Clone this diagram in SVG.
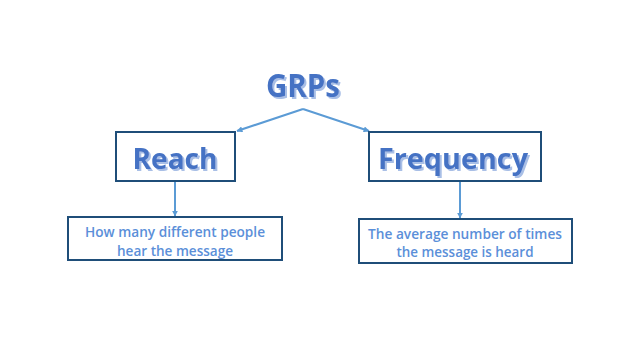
<svg xmlns="http://www.w3.org/2000/svg" width="640" height="360" viewBox="0 0 640 360">
<defs>
<marker id="ah" viewBox="0 0 10 10" refX="9" refY="5" markerWidth="6" markerHeight="6" orient="auto-start-reverse" markerUnits="userSpaceOnUse"><path d="M0,0 L10,5 L0,10 z" fill="#5B9BD5"/></marker>
<filter id="sh" x="-10%" y="-10%" width="130%" height="130%"><feOffset dx="1.5" dy="1.5" in="SourceAlpha" result="o"/><feFlood flood-color="#A9BFE6"/><feComposite in2="o" operator="in" result="s"/><feMerge><feMergeNode in="s"/><feMergeNode in="SourceGraphic"/></feMerge></filter>
</defs>
<style>
.box{fill:#fff;stroke:#1F4E79;stroke-width:2}
.t{font-family:"Open Sans","Liberation Sans",sans-serif;font-weight:bold;fill:#4472C4;text-anchor:middle;filter:url(#sh)}
.s{font-family:"Open Sans","Liberation Sans",sans-serif;font-weight:600;fill:#5B8FD9;text-anchor:middle;font-size:14px}
.c{stroke:#5B9BD5;stroke-width:2;fill:none;marker-end:url(#ah)}
</style>
<rect width="640" height="360" fill="#fff"/>
<g id="connectors">
<line class="c" x1="303" y1="109" x2="237" y2="131"/>
<line class="c" x1="303" y1="109" x2="369" y2="131"/>
<line class="c" x1="175" y1="182" x2="175" y2="216"/>
<line class="c" x1="460" y1="182" x2="460" y2="218"/>
</g>
<g id="grps"><text class="t" x="303" y="97" font-size="32" textLength="74" lengthAdjust="spacingAndGlyphs">GRPs</text></g>
<g id="reach"><rect class="box" x="116" y="132" width="119" height="49"/><text class="t" x="175" y="169" font-size="29" textLength="85" lengthAdjust="spacingAndGlyphs">Reach</text></g>
<g id="frequency"><rect class="box" x="369" y="132" width="172" height="49"/><text class="t" x="453" y="169" font-size="29" textLength="150" lengthAdjust="spacingAndGlyphs">Frequency</text></g>
<g id="reach-desc"><rect class="box" x="68" y="217" width="214" height="43"/><text class="s" x="175" y="237" textLength="180" lengthAdjust="spacingAndGlyphs">How many different people</text><text class="s" x="175" y="256" textLength="116" lengthAdjust="spacingAndGlyphs">hear the message</text></g>
<g id="freq-desc"><rect class="box" x="359" y="219" width="213" height="44"/><text class="s" x="465" y="239" textLength="194" lengthAdjust="spacingAndGlyphs">The average number of times</text><text class="s" x="465" y="257" textLength="137" lengthAdjust="spacingAndGlyphs">the message is heard</text></g>
</svg>
